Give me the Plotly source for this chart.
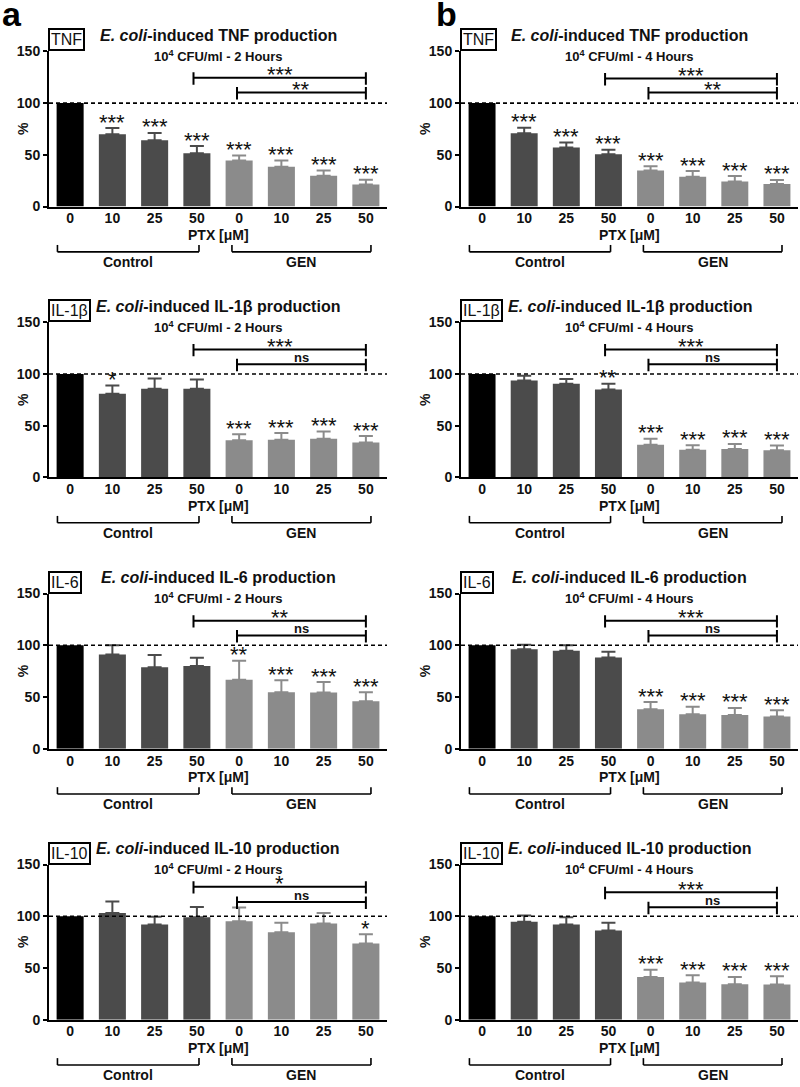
import plotly.graph_objects as go

W, H = 800, 1087
FONT = "Liberation Sans, Arial, sans-serif"

cats = ["0", "10", "25", "50", "0", "10", "25", "50"]
groups = ["Control", "GEN"]
cytokines = ["TNF", "IL-1β", "IL-6", "IL-10"]
times = ["2 Hours", "4 Hours"]
letters = ["a", "b"]

# ---- values (% of control), upward SEM ----
tnf_2h = [100, 69.8, 64.1, 51.4, 44.4, 38.4, 29.8, 21.3]
tnf_2h_err = [0, 6.0, 7.0, 7.0, 5.0, 6.0, 5.0, 4.5]
tnf_4h = [100, 70.8, 57.1, 50.5, 34.9, 28.9, 24.1, 21.9]
tnf_4h_err = [0, 5.4, 4.8, 4.4, 4.1, 5.4, 5.4, 3.8]

il1b_2h = [100, 81.0, 85.7, 85.7, 35.9, 36.5, 37.5, 33.7]
il1b_2h_err = [0, 8.0, 10.0, 9.0, 6.0, 6.4, 7.0, 6.3]
il1b_4h = [100, 93.7, 90.5, 85.1, 31.7, 26.7, 27.6, 26.3]
il1b_4h_err = [0, 4.7, 4.7, 5.4, 5.7, 4.4, 4.8, 4.5]

il6_2h = [100, 91.1, 78.7, 80.0, 66.7, 54.6, 54.3, 46.0]
il6_2h_err = [0, 9.0, 11.8, 8.0, 18.4, 11.7, 10.1, 8.6]
il6_4h = [100, 96.2, 94.6, 88.3, 38.1, 33.3, 32.7, 31.1]
il6_4h_err = [0, 4.4, 5.4, 5.4, 7.0, 7.3, 6.7, 6.0]

il10_2h = [100, 103.2, 92.1, 99.0, 95.2, 84.4, 93.0, 73.7]
il10_2h_err = [0, 11.0, 7.3, 10.0, 13.3, 9.2, 10.2, 8.9]
il10_4h = [100, 94.6, 92.1, 86.3, 41.3, 35.9, 34.3, 34.0]
il10_4h_err = [0, 6.0, 7.0, 7.3, 7.0, 7.0, 7.0, 8.0]

# significance stars above each bar
tnf_2h_sig = ["", "***", "***", "***", "***", "***", "***", "***"]
tnf_4h_sig = ["", "***", "***", "***", "***", "***", "***", "***"]
il1b_2h_sig = ["", "*", "", "", "***", "***", "***", "***"]
il1b_4h_sig = ["", "", "", "**", "***", "***", "***", "***"]
il6_2h_sig = ["", "", "", "", "**", "***", "***", "***"]
il6_4h_sig = ["", "", "", "", "***", "***", "***", "***"]
il10_2h_sig = ["", "", "", "", "", "", "", "*"]
il10_4h_sig = ["", "", "", "", "***", "***", "***", "***"]

# comparison brackets: (upper level, upper label, lower level, lower label)
tnf_2h_br = (124.4, "***", 110.2, "**")
tnf_4h_br = (123.8, "***", 110.2, "**")
il1b_2h_br = (123.8, "***", 109.5, "ns")
il1b_4h_br = (123.8, "***", 109.5, "ns")
il6_2h_br = (123.8, "**", 109.5, "ns")
il6_4h_br = (123.8, "***", 109.5, "ns")
il10_2h_br = (128.6, "*", 113.7, "ns")
il10_4h_br = (123.2, "***", 108.6, "ns")

panels = [
    [(tnf_2h, tnf_2h_err, tnf_2h_sig, tnf_2h_br), (tnf_4h, tnf_4h_err, tnf_4h_sig, tnf_4h_br)],
    [(il1b_2h, il1b_2h_err, il1b_2h_sig, il1b_2h_br), (il1b_4h, il1b_4h_err, il1b_4h_sig, il1b_4h_br)],
    [(il6_2h, il6_2h_err, il6_2h_sig, il6_2h_br), (il6_4h, il6_4h_err, il6_4h_sig, il6_4h_br)],
    [(il10_2h, il10_2h_err, il10_2h_sig, il10_2h_br), (il10_4h, il10_4h_err, il10_4h_sig, il10_4h_br)],
]

# ---- styling / geometry ----
C_BASE = "#000000"
C_CTRL = "#4b4b4b"
C_GEN = "#8b8b8b"
TXT = "#111111"
col_px = [(49, 387), (461, 798)]
row_top = [44, 319, 594.3, 869.3]
PH = 157.5

fig = go.Figure()
annotations = []
shapes = []
layout = dict(width=W, height=H, margin=dict(l=0, r=0, t=0, b=0),
              plot_bgcolor="white", paper_bgcolor="white", showlegend=False,
              font=dict(family=FONT, color=TXT))

xs = list(range(len(cats)))

for r in range(4):
    for c in range(2):
        k = r * 2 + c
        sfx = "" if k == 0 else str(k + 1)
        xa, ya = "x" + sfx, "y" + sfx
        vals, errs, sig, br = panels[r][c]
        x0p, x1p = col_px[c]
        top = row_top[r]
        layout["xaxis" + sfx] = dict(
            domain=[x0p / W, x1p / W], range=[-0.5, 7.5], anchor=ya,
            tickvals=xs, ticktext=cats, ticks="", showline=True, linewidth=2,
            linecolor="black", showgrid=False, zeroline=False, ticklabelstandoff=-2,
            tickfont=dict(size=14, weight="bold", color=TXT, family=FONT))
        layout["yaxis" + sfx] = dict(
            domain=[1 - (top + PH) / H, 1 - top / H], range=[0, 150], anchor=xa,
            tickvals=[0, 50, 100, 150], ticks="outside", ticklen=4, tickwidth=2,
            tickcolor="black", showline=True, linewidth=2, linecolor="black",
            showgrid=False, zeroline=False,
            tickfont=dict(size=14, weight="bold", color=TXT, family=FONT))

        # bars
        for idx, col in [([0], C_BASE), ([1, 2, 3], C_CTRL), ([4, 5, 6, 7], C_GEN)]:
            fig.add_trace(go.Bar(
                x=[xs[i] for i in idx], y=[vals[i] for i in idx],
                width=0.64, marker=dict(color=col, line=dict(width=0)),
                error_y=dict(type="data", symmetric=False,
                             array=[errs[i] for i in idx],
                             arrayminus=[0] * len(idx),
                             color=col, thickness=2, width=7,
                             visible=idx != [0]),
                xaxis=xa, yaxis=ya))

        # dashed 100 % line
        shapes.append(dict(type="line", xref=xa, yref=ya, x0=-0.5, x1=7.5, y0=100, y1=100,
                           line=dict(color="black", width=1.6, dash="4px,3px"), layer="above"))

        # stars above bars
        for i, s in enumerate(sig):
            if s:
                annotations.append(dict(x=xs[i], y=vals[i] + errs[i], xref=xa, yref=ya,
                                        text=s, showarrow=False, yanchor="middle", yshift=6,
                                        font=dict(size=22, color=TXT)))

        # comparison brackets
        up, up_lbl, lo, lo_lbl = br
        for (xl, yl, lbl) in [(2.92, up, up_lbl), (3.95, lo, lo_lbl)]:
            shapes.append(dict(type="line", xref=xa, yref=ya, x0=xl, x1=7.0, y0=yl, y1=yl,
                               line=dict(color="black", width=2)))
            for xe in (xl, 7.0):
                shapes.append(dict(type="line", xref=xa, yref=ya, x0=xe, x1=xe,
                                   y0=yl - 6.7, y1=yl + 5.3, line=dict(color="black", width=2)))
            if lbl == "ns":
                annotations.append(dict(x=(xl + 7.0) / 2, y=yl, xref=xa, yref=ya,
                                        text="<b>ns</b>", showarrow=False, yanchor="middle",
                                        yshift=7, font=dict(size=13, color=TXT)))
            else:
                annotations.append(dict(x=(xl + 7.0) / 2, y=yl, xref=xa, yref=ya,
                                        text=lbl, showarrow=False, yanchor="middle",
                                        yshift=3, font=dict(size=22, color=TXT)))

        # titles
        annotations.append(dict(x=0.5, y=1 + 16 / PH, xref=xa + " domain", yref=ya + " domain",
                                text="<b><i>E. coli</i>-induced " + cytokines[r] + " production</b>",
                                showarrow=False, yanchor="middle",
                                font=dict(size=16, color=TXT)))
        annotations.append(dict(x=0.5, y=1 - 5 / PH, xref=xa + " domain", yref=ya + " domain",
                                text="<b>10<sup>4</sup> CFU/ml - " + times[c] + "</b>",
                                showarrow=False, yanchor="middle",
                                font=dict(size=13, color=TXT)))
        # boxed cytokine label
        annotations.append(dict(x=0, y=1, xref=xa + " domain", yref=ya + " domain",
                                text=cytokines[r], showarrow=False, xanchor="left",
                                yanchor="bottom", xshift=-1,
                                bordercolor="black", borderwidth=2, borderpad=1,
                                bgcolor="white", font=dict(size=16, color=TXT)))
        # y title
        annotations.append(dict(x=(x0p - 36) / W, y=0.5, xref="paper", yref=ya + " domain",
                                text="<b>%</b>", showarrow=False, textangle=-90,
                                font=dict(size=14, color=TXT)))
        # x title
        annotations.append(dict(x=0.5, y=-29 / PH, xref=xa + " domain", yref=ya + " domain",
                                text="<b>PTX [μM]</b>", showarrow=False, yanchor="middle",
                                font=dict(size=14, color=TXT)))
        # group brackets
        for (gx0, gx1, glbl) in [(-0.3, 3.05, groups[0]), (3.83, 7.12, groups[1])]:
            shapes.append(dict(type="line", xref=xa, yref=ya + " domain", x0=gx0, x1=gx1,
                               y0=-46 / PH, y1=-46 / PH, line=dict(color="black", width=1.6)))
            for xe in (gx0, gx1):
                shapes.append(dict(type="line", xref=xa, yref=ya + " domain", x0=xe, x1=xe,
                                   y0=-46 / PH, y1=-39 / PH, line=dict(color="black", width=1.6)))
            annotations.append(dict(x=(gx0 + gx1) / 2, y=-56 / PH, xref=xa, yref=ya + " domain",
                                    text="<b>" + glbl + "</b>", showarrow=False, yanchor="middle",
                                    font=dict(size=14, color=TXT)))

# panel letters
for c, lx in enumerate([0, 434]):
    annotations.append(dict(x=lx / W, y=1 - 27 / H, xref="paper", yref="paper",
                            text="<b>" + letters[c] + "</b>", showarrow=False,
                            xanchor="left", yanchor="bottom",
                            font=dict(size=34, color="black")))

layout["annotations"] = annotations
layout["shapes"] = shapes
fig.update_layout(**layout)
fig.write_html("out.html", config={"displayModeBar": False},
               post_script="document.body.style.margin='0';document.body.style.overflow='hidden';")
